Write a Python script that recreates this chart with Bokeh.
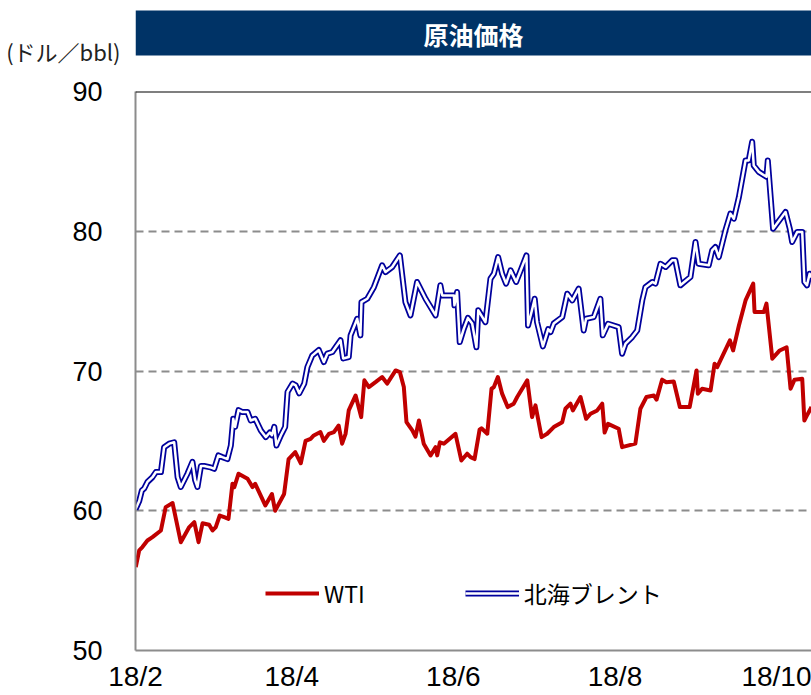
from bokeh.plotting import figure
from bokeh.layouts import column
from bokeh.models import Range1d, FixedTicker, Span, Legend, LegendItem
from bokeh.core.properties import value
from bokeh.embed import file_html
from bokeh.resources import INLINE

# ---- data (x = days since 2018-02-01, values in USD/bbl) ----
brent_days = [0.0, 1.4, 2.4, 3.3, 4.5, 6.4, 7.7, 9.6, 10.8, 12.7, 14.6, 15.9, 17.1, 19.6, 21.5,
              22.5, 23.4, 24.7, 25.9, 28.4, 29.7, 31.3, 32.8, 34.7, 36.0, 36.9, 37.6, 38.9, 40.4,
              42.3, 43.5, 45.2, 47.3, 49.2, 50.7, 51.5, 52.4, 53.2, 54.9, 56.5, 57.4, 59.3, 60.5,
              61.8, 63.7, 64.9, 66.7, 69.2, 71.1, 72.4, 74.3, 77.4, 78.4, 80.5, 81.2, 83.7, 84.9,
              85.3, 87.5, 90.0, 93.1, 94.4, 96.9, 99.8, 101.9, 103.8, 106.3, 109.5, 113.3, 115.1,
              115.8, 120.2, 120.4, 121.4, 122.4, 123.9, 125.5, 127.1, 128.7, 129.4, 132.1, 134.0,
              135.3, 136.9, 138.4, 139.9, 141.6, 143.7, 147.6, 148.2, 149.5, 150.7, 151.6, 153.8,
              155.8, 156.7, 157.9, 161.1, 163.0, 164.9, 167.3, 169.2, 170.1, 173.0, 175.5, 176.4,
              178.4, 182.4, 183.7, 185.0, 187.5, 189.4, 191.3, 192.5, 195.1, 196.3, 198.2, 200.1,
              202.6, 203.8, 205.7, 209.5, 211.4, 212.6, 216.4, 217.7, 218.9, 220.2, 222.7, 224.6,
              225.9, 227.8, 230.3, 231.5, 232.8, 233.4, 235.3, 238.2, 238.7, 240.7, 245.4, 247.0,
              247.9, 249.8, 251.7, 252.5, 253.5, 254.5, 255.2]
brent_vals = [60.1, 60.7, 61.45, 61.6, 62.06, 62.4, 62.77, 62.77, 64.55, 64.8, 64.9, 62.4, 61.7,
              62.65, 63.5, 62.2, 61.7, 63.2, 63.2, 63.1, 63.0, 63.96, 63.84, 63.7, 64.67, 66.58,
              66.0, 67.2, 67.06, 67.06, 66.46, 66.58, 65.75, 65.27, 65.6, 65.4, 66.0, 64.67, 65.4,
              66.0, 68.5, 69.1, 68.97, 68.4, 69.1, 70.28, 71.1, 71.5, 70.64, 71.24, 71.36, 72.2,
              70.9, 71.0, 72.55, 73.74, 72.55, 74.93, 75.17, 76.0, 77.56, 77.08, 77.44, 78.27,
              74.93, 73.98, 76.37, 75.17, 73.98, 76.13, 75.41, 75.41, 74.7, 75.65, 72.07, 73.0,
              73.8, 73.4, 71.7, 74.34, 73.5, 76.6, 76.96, 78.15, 76.96, 76.25, 77.2, 76.37, 78.27,
              73.26, 74.22, 75.17, 73.5, 71.76, 73.0, 72.79, 73.4, 73.86, 75.53, 75.05, 75.89,
              72.9, 73.74, 73.86, 75.17, 72.55, 73.38, 73.14, 71.24, 71.96, 72.43, 72.9, 75.05,
              76.0, 76.37, 76.25, 77.67, 77.44, 77.92, 77.92, 76.13, 76.73, 79.23, 77.67, 77.56,
              78.63, 78.87, 78.15, 80.06, 81.26, 80.9, 82.45, 85.07, 85.07, 86.4, 84.7, 84.25,
              83.9, 85.07, 80.18, 81.38, 80.18, 79.23, 79.95, 79.95, 76.37, 76.13, 76.96, 76.7]

wti_days = [0.1, 1.4, 2.6, 4.5, 6.4, 9.6, 11.4, 14.0, 17.1, 20.3, 22.2, 23.8, 25.3, 27.8, 29.1,
            30.3, 31.8, 33.5, 35.1, 36.6, 37.3, 38.9, 42.3, 44.2, 45.2, 49.0, 51.5, 52.7, 56.1,
            57.8, 60.3, 62.4, 64.2, 66.1, 67.3, 69.8, 71.1, 73.0, 74.9, 76.7, 78.0, 79.3, 80.5,
            83.1, 85.2, 86.4, 88.1, 90.6, 93.1, 95.0, 98.2, 99.8, 101.3, 102.3, 104.5, 105.7,
            107.0, 108.8, 111.4, 113.3, 113.9, 114.9, 116.4, 120.8, 123.0, 125.2, 126.5, 128.0,
            129.9, 130.6, 132.8, 134.4, 135.3, 136.8, 138.4, 140.5, 142.8, 144.1, 147.9, 149.7,
            151.0, 153.3, 155.4, 157.9, 161.1, 162.3, 164.2, 165.1, 168.0, 170.1, 171.8, 174.3,
            176.2, 177.1, 178.4, 182.4, 183.7, 188.7, 190.6, 192.9, 195.7, 196.7, 198.8, 200.4,
            203.2, 205.5, 209.2, 211.8, 212.3, 213.9, 217.1, 218.6, 219.6, 224.4, 225.6, 227.8,
            230.3, 233.2, 233.7, 237.2, 238.2, 240.4, 243.2, 245.8, 247.3, 248.8, 251.7, 252.5,
            253.5, 255.2]
wti_vals = [55.96, 57.16, 57.4, 57.87, 58.11, 58.59, 60.26, 60.55, 57.75, 58.83, 59.19, 57.75,
            59.1, 59.0, 58.59, 58.83, 59.66, 59.54, 59.42, 61.93, 61.69, 62.65, 62.29, 61.69,
            61.93, 60.38, 61.2, 60.0, 61.2, 63.7, 64.2, 63.4, 65.0, 65.15, 65.39, 65.63, 65.0,
            65.5, 65.63, 66.1, 64.8, 65.5, 67.18, 68.25, 66.7, 69.33, 68.85, 69.2, 69.57, 69.1,
            70.04, 69.92, 68.85, 66.34, 65.75, 65.3, 66.46, 64.8, 63.96, 64.55, 63.96, 64.9,
            64.8, 65.5, 63.6, 64.08, 63.84, 63.7, 65.8, 65.9, 65.51, 68.73, 68.85, 69.57, 68.38,
            67.42, 67.66, 68.14, 69.33, 66.7, 67.54, 65.27, 65.51, 65.99, 66.34, 67.3, 67.66,
            67.18, 68.14, 66.58, 66.94, 67.18, 67.66, 65.6, 66.22, 65.87, 64.55, 64.8, 67.3,
            68.14, 68.25, 67.95, 69.38, 69.2, 69.25, 67.42, 67.42, 70.04, 68.38, 68.73, 68.61,
            70.52, 70.28, 72.19, 71.47, 73.26, 75.05, 76.25, 74.22, 74.22, 74.82, 70.88, 71.47,
            71.7, 68.73, 69.38, 69.45, 66.46, 66.82, 67.42]

tick_days = [0, 59, 120, 181, 242]
tick_labels = ["18/2", "18/4", "18/6", "18/8", "18/10"]
y_ticks = [50, 60, 70, 80, 90]
grid_ticks = [60, 70, 80]
title_text = "原油価格"
unit_text = "(ドル／bbl)"
series_names = ["WTI", "北海ブレント"]

JP = "Noto Sans CJK JP"
NUM = "Liberation Sans Narrow, Liberation Sans, Arial, sans-serif"

# ---- header strip: navy title bar; unit label drawn as the single tick label of its left axis ----
HDR_H = 73
t = figure(width=811, height=HDR_H, x_range=Range1d(0, 1), y_range=Range1d(HDR_H, 0),
           toolbar_location=None, output_backend="svg", x_axis_type=None,
           min_border_left=135, min_border_right=0, min_border_top=0, min_border_bottom=0)
t.outline_line_color = None
t.background_fill_color = "white"
t.border_fill_color = "white"
t.grid.visible = False
t.yaxis.ticker = FixedTicker(ticks=[64])
t.yaxis.major_label_overrides = {64: unit_text}
t.yaxis.axis_line_color = None
t.yaxis.major_tick_line_color = None
t.yaxis.minor_tick_line_color = None
t.yaxis.major_label_standoff = 9
t.yaxis.major_label_text_font = JP
t.yaxis.major_label_text_font_size = "22px"
t.yaxis.major_label_text_color = "#222222"
t.quad(left=[0], right=[1], top=[10], bottom=[55], fill_color="#003366", line_color=None)
t.text(x=[0.5], y=[33], text=[title_text], text_color="white", text_font=value(JP),
       text_font_size="25px", text_font_style="bold", text_align="center", text_baseline="middle")

# ---- main chart ----
p = figure(width=811, height=695 - HDR_H, x_range=Range1d(0, 255.2), y_range=Range1d(50, 90),
           toolbar_location=None, output_backend="svg",
           min_border_left=135, min_border_right=0, min_border_top=91 - HDR_H,
           min_border_bottom=45)
p.outline_line_color = None
p.background_fill_color = "white"
p.border_fill_color = "white"

p.xaxis.ticker = FixedTicker(ticks=tick_days)
p.xaxis.major_label_overrides = {d: l for d, l in zip(tick_days, tick_labels)}
p.yaxis.ticker = FixedTicker(ticks=y_ticks)
for ax in (p.xaxis, p.yaxis):
    ax.major_tick_line_color = None
    ax.minor_tick_line_color = None
    ax.axis_line_color = "#8c8c8c"
    ax.axis_line_width = 2
    ax.major_label_text_font = NUM
    ax.major_label_text_color = "black"
p.xaxis.major_label_text_font_size = "28px"
p.yaxis.major_label_text_font_size = "27px"
p.xaxis.major_label_standoff = 4
p.yaxis.major_label_standoff = 27

p.xgrid.visible = False
p.ygrid.ticker = FixedTicker(ticks=grid_ticks)
p.ygrid.grid_line_color = "#8c8c8c"
p.ygrid.grid_line_width = 2
p.ygrid.grid_line_dash = "8 5"

p.add_layout(Span(location=90, dimension="width", line_color="black", line_width=2))

r_wti = p.line(wti_days, wti_vals, line_color="#C00000", line_width=4, line_join="round")
r_b1 = p.line(brent_days, brent_vals, line_color="#00009C", line_width=6, line_join="round")
r_b2 = p.line(brent_days, brent_vals, line_color="white", line_width=2.5, line_join="round")

legend = Legend(items=[LegendItem(label=series_names[0], renderers=[r_wti]),
                       LegendItem(label=series_names[1], renderers=[r_b1, r_b2])],
                location=(130, 40), orientation="horizontal",
                border_line_color=None, background_fill_alpha=0,
                padding=0, margin=0, spacing=100,
                glyph_width=54, glyph_height=20, label_standoff=5,
                label_text_font=JP, label_text_font_size="23px", label_text_color="black")
p.add_layout(legend, "center")

layout = column(t, p, spacing=0)
open("out.html", "w").write(file_html(layout, INLINE))
